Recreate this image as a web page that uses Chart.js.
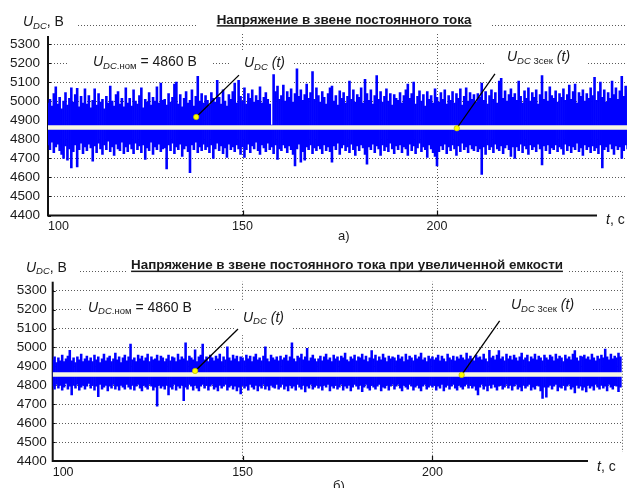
<!DOCTYPE html>
<html><head><meta charset="utf-8">
<script src="https://cdn.jsdelivr.net/npm/chart.js@4"></script>
<style>
html,body{margin:0;padding:0;background:#fff;}
body{width:627px;height:488px;position:relative;overflow:hidden;}
#wa{position:absolute;left:0;top:0;width:627px;height:244px;overflow:hidden;}
#wb{position:absolute;left:0;top:244px;width:627px;height:244px;overflow:hidden;}
canvas{display:block;}
</style></head>
<body>
<div id="wa"><canvas id="ca" width="640" height="244"></canvas></div>
<div id="wb"><canvas id="cb" width="627" height="244"></canvas></div>
<script>
// ---- sampling of the envelopes (seconds) ----
const T_START = 100, T_STEP = 0.5;
const xTicks = [100, 150, 200];
const yTicks = [4400, 4500, 4600, 4700, 4800, 4900, 5000, 5100, 5200, 5300];

// Panel a) – upper / lower envelope of U_DC(t), В
const hiA = [
4990,5010,4975,5040,5075,4985,5020,4960,5000,5045,4980,5015,5070,4995,5035,5068,4970,5025,4990,5065,
4985,5030,4965,5005,5065,4980,5040,4995,5010,4960,5025,4990,5080,5000,4975,5035,5050,4985,5015,4970,
5070,4990,5015,4975,5060,5000,4985,5030,5070,4965,5010,4995,5045,4980,5020,5000,5075,4990,5095,5005,
5010,4980,5040,4995,5020,5090,5100,4985,5035,4970,5015,5050,4990,5005,5060,4975,5025,5130,5000,5040,
4990,5030,5005,4980,5045,5015,4995,5110,5020,4985,5060,5000,4975,5035,5010,5050,5095,4990,5110,5025,
5000,5070,4985,5040,5015,5060,4995,5030,5005,5075,4990,5020,5045,5010,4985,4875,5140,5050,5080,5010,
5030,5085,5000,5050,5020,5065,4995,5040,5170,5025,5060,5005,5035,5090,5015,5045,5155,5010,5070,5030,
4995,5050,5020,4985,5040,5070,5080,5000,5030,4980,5055,5015,5045,4990,5025,5105,5010,5060,4995,5035,
5020,5070,4990,5115,5040,5005,5060,4985,5030,5135,5010,5050,4995,5025,5065,5000,5040,4980,5035,5015,
5005,5045,4990,5030,5060,5090,5015,5040,5100,4985,5025,5055,5000,5035,4975,5050,5010,5030,4990,5065,
5020,4995,5045,5010,5060,4985,5030,5005,5050,4990,5040,5015,5065,4980,5025,5070,5000,5045,5010,5035,
4995,5040,5020,5095,5005,5050,4985,5030,5060,5010,5045,4990,5105,5120,5015,5055,5000,5035,5065,5020,
5040,5005,5105,5025,4990,5055,5015,5070,5000,5045,5020,5060,4985,5035,5135,5010,5050,5000,5075,5030,
5015,5055,4995,5040,5020,5065,5005,5035,5085,5010,5050,5090,4990,5045,5025,5060,5000,5040,5015,5070,
5030,5125,5005,5050,5100,5020,5060,4995,5045,5015,5105,5035,5070,5010,5055,5130,5025,5080,5040,5065
];
const loA = [
4770,4745,4785,4730,4760,4775,4740,4720,4700,4765,4690,4750,4650,4735,4770,4655,4745,4780,4725,4760,
4740,4775,4755,4685,4765,4730,4780,4750,4720,4770,4745,4790,4735,4760,4715,4775,4750,4740,4785,4725,
4760,4735,4775,4750,4725,4780,4745,4765,4730,4770,4695,4755,4740,4785,4720,4760,4745,4775,4735,4750,
4755,4645,4770,4740,4780,4725,4760,4745,4775,4710,4750,4765,4735,4625,4770,4745,4785,4730,4760,4740,
4775,4745,4760,4730,4770,4700,4750,4780,4740,4765,4725,4755,4705,4775,4745,4760,4735,4770,4750,4720,
4760,4705,4745,4775,4730,4765,4750,4785,4740,4720,4770,4755,4735,4780,4745,4760,4725,4770,4695,4750,
4740,4770,4755,4730,4765,4745,4720,4660,4750,4775,4680,4735,4690,4760,4745,4770,4725,4755,4740,4765,
4750,4725,4770,4740,4760,4735,4680,4765,4745,4780,4720,4755,4770,4740,4760,4730,4775,4745,4715,4765,
4740,4770,4755,4720,4670,4760,4745,4775,4730,4765,4750,4715,4770,4740,4760,4735,4780,4750,4725,4765,
4745,4770,4730,4760,4750,4715,4775,4740,4765,4725,4755,4780,4735,4760,4745,4705,4770,4750,4730,4710,
4660,4735,4765,4745,4775,4725,4760,4740,4770,4750,4715,4765,4735,4780,4745,4760,4730,4770,4750,4740,
4765,4735,4750,4615,4760,4720,4770,4745,4760,4730,4775,4750,4740,4765,4725,4755,4770,4745,4710,4760,
4700,4760,4740,4775,4730,4765,4750,4720,4770,4745,4760,4735,4775,4750,4665,4765,4740,4770,4725,4755,
4745,4770,4735,4760,4750,4720,4775,4740,4765,4730,4760,4745,4780,4735,4755,4715,4770,4745,4760,4730,
4765,4740,4755,4725,4770,4650,4745,4760,4735,4775,4750,4720,4765,4745,4760,4700,4740,4770,4750,4735
];
// Panel б) – increased capacitance
const hiB = [
4935,4950,4920,4945,4930,4960,4925,4940,4955,4985,4930,4945,4920,4950,4935,4965,4925,4940,4955,4930,
4945,4925,4960,4935,4950,4920,4940,4965,4930,4945,4955,4925,4940,4970,4935,4950,4920,4945,4960,4930,
4950,5018,4935,4945,4925,4960,4940,4955,4930,4945,4965,4925,4950,4935,4940,4960,4930,4955,4945,4925,
4940,4960,4930,4950,4945,4925,4965,4935,4950,4940,5025,4930,4955,4945,4935,4987,4925,4950,4960,5018,
4935,4950,4925,4960,4945,4930,4955,4940,4965,4925,4950,4935,5004,4945,4930,4960,4940,4955,4925,4950,
4945,4930,4960,4940,4955,4925,4950,4965,4935,4945,4930,4955,5004,4940,4925,4960,4945,4935,4950,4930,
4955,4935,4945,4960,4930,4950,5025,4940,4925,4955,4945,4965,4935,4950,4995,4930,4945,4960,4940,4925,
4940,4955,4930,4950,4965,4935,4945,4925,4960,4940,4950,4930,4955,4945,4970,4935,4925,4950,4940,4960,
4930,4950,4945,4965,4935,4955,4925,4945,4983,4940,4960,4930,4950,4935,4965,4945,4925,4955,4940,4950,
4945,4930,4960,4940,4950,4925,4965,4935,4955,4945,4930,4960,4940,4950,4970,4935,4945,4925,4955,4940,
4950,4935,4945,4960,4930,4955,4940,4925,4965,4945,4935,4955,4930,4950,4940,4960,4945,4935,4970,4940,
4955,4940,4930,4960,4945,4950,4935,4965,4940,4925,4985,4945,4955,4935,4960,4983,4940,4950,4930,4965,
4940,4955,4935,4960,4945,4930,4950,4970,4935,4945,4960,4925,4950,4940,4965,4935,4955,4945,4930,4960,
4945,4935,4960,4950,4930,4965,4940,4955,4945,4925,4960,4940,4950,4935,4965,4983,4945,4930,4955,4950,
4960,4940,4950,4935,4965,4945,4930,4955,4940,4960,4945,4992,4950,4935,4965,4940,4955,4945,4970,4950
];
const loB = [
4795,4780,4805,4785,4800,4775,4790,4810,4780,4795,4749,4800,4785,4805,4775,4790,4800,4780,4795,4810,
4785,4800,4775,4795,4740,4805,4780,4790,4800,4770,4795,4785,4805,4780,4795,4775,4800,4790,4780,4805,
4790,4780,4800,4775,4795,4805,4785,4770,4800,4790,4780,4805,4795,4775,4790,4690,4800,4785,4795,4780,
4800,4749,4790,4780,4805,4775,4795,4785,4800,4719,4790,4780,4805,4795,4775,4800,4785,4770,4795,4805,
4785,4800,4775,4795,4805,4780,4790,4770,4800,4785,4795,4805,4775,4790,4800,4780,4795,4770,4790,4755,
4800,4785,4795,4775,4805,4790,4780,4800,4770,4795,4785,4805,4780,4795,4775,4800,4790,4785,4805,4780,
4790,4805,4780,4795,4770,4800,4785,4795,4775,4805,4790,4780,4800,4765,4795,4785,4805,4780,4790,4800,
4785,4795,4775,4800,4790,4805,4770,4795,4785,4800,4780,4790,4805,4775,4795,4785,4800,4770,4790,4805,
4795,4780,4800,4766,4790,4805,4785,4775,4800,4790,4780,4795,4805,4770,4790,4785,4800,4775,4795,4805,
4780,4795,4805,4785,4770,4800,4790,4780,4805,4795,4775,4790,4800,4785,4770,4795,4805,4780,4790,4800,
4790,4800,4775,4795,4785,4805,4770,4790,4800,4780,4795,4805,4785,4775,4800,4790,4780,4795,4805,4785,
4800,4785,4795,4775,4749,4790,4805,4780,4795,4770,4800,4785,4805,4790,4775,4795,4800,4780,4790,4805,
4785,4800,4775,4795,4805,4780,4790,4770,4800,4785,4795,4805,4775,4790,4780,4800,4795,4770,4731,4790,
4738,4790,4800,4780,4795,4805,4770,4790,4785,4800,4775,4795,4805,4780,4790,4760,4800,4785,4795,4775,
4790,4765,4800,4785,4795,4775,4805,4790,4780,4800,4785,4795,4770,4805,4790,4780,4800,4795,4766,4790
];
// 3-second average U_DC 3сек(t)
const avgT = [100, 250];
const avgA = [4862, 4862];
const avgB = [4857, 4857];
// marked points (t, value) and leader end points
const dotsA = [[138.1, 4917], [205.1, 4858]];
const dotsB = [[137.5, 4876], [207.7, 4855]];
const leadEndA = [[149.1, 5137], [214.9, 5143]];
const leadEndB = [[148.8, 5098], [217.7, 5140]];

const FONT = '"Liberation Sans", Arial, Helvetica, sans-serif';
const TXT = '#1a1a1a';

function rich(ctx, x, y, parts){
  let cx = x;
  for (const p of parts){
    ctx.font = p.f;
    ctx.fillText(p.t, cx, y + (p.dy || 0));
    cx += ctx.measureText(p.t).width;
  }
}
const F = (s, st) => (st ? st + ' ' : '') + s + 'px ' + FONT;

function decoPlugin(cfg){
  return {
    id: 'deco',
    beforeDatasetsDraw(chart){
      const {ctx, chartArea: a, scales: {x, y}} = chart;
      ctx.save();
      ctx.strokeStyle = '#111'; ctx.lineWidth = 2; ctx.lineJoin = 'miter';
      ctx.beginPath();
      ctx.moveTo(a.left, a.top); ctx.lineTo(a.left, a.bottom); ctx.lineTo(a.right, a.bottom);
      ctx.stroke();
      ctx.lineWidth = 1.2;
      ctx.beginPath();
      for (const v of [150, 200, 250]){ const px = Math.round(x.getPixelForValue(v)) + 0.5; ctx.moveTo(px, a.bottom); ctx.lineTo(px, a.bottom - 5); }
      for (const v of yTicks.concat([5400])){ const py = Math.round(y.getPixelForValue(v)) + 0.5; ctx.moveTo(a.left, py); ctx.lineTo(a.left + 3, py); }
      ctx.stroke();
      ctx.fillStyle = '#fff';
      for (const b of cfg.boxes) ctx.fillRect(b[0], b[1], b[2] - b[0], b[3] - b[1]);
      ctx.restore();
    },
    afterDatasetsDraw(chart){
      const ctx = chart.ctx;
      ctx.save();
      ctx.fillStyle = TXT; ctx.textBaseline = 'alphabetic'; ctx.textAlign = 'left';
      const L = cfg.lab;
      rich(ctx, L.yT[0], L.yT[1], [{t:'U', f:F(14,'italic')}, {t:'DC', f:F(9.5,'italic'), dy:2.5}, {t:', В', f:F(14)}]);
      rich(ctx, L.tT[0], L.tT[1], [{t:'t', f:F(14,'italic')}, {t:', с', f:F(14)}]);
      ctx.font = F(13.4, 'bold');
      const w = ctx.measureText(cfg.title).width;
      const x0 = L.title[0] - w / 2;
      ctx.fillText(cfg.title, x0, L.title[1]);
      ctx.fillRect(x0, L.title[1] + 1.6, w, 1.5);
      rich(ctx, L.nom[0], L.nom[1], [{t:'U', f:F(14,'italic')}, {t:'DC', f:F(9.5,'italic'), dy:2.5}, {t:'.ном', f:F(9.5), dy:2.5}, {t:' = 4860 В', f:F(14)}]);
      rich(ctx, L.udc[0], L.udc[1], [{t:'U', f:F(14,'italic')}, {t:'DC', f:F(9.5,'italic'), dy:2.5}, {t:' (t)', f:F(14,'italic')}]);
      rich(ctx, L.u3[0], L.u3[1], [{t:'U', f:F(14,'italic')}, {t:'DC', f:F(9.5,'italic'), dy:2.5}, {t:' 3сек', f:F(9.5), dy:2.5}, {t:' (t)', f:F(14,'italic')}]);
      ctx.font = F(13);
      ctx.fillText(cfg.panel, L.panel[0], L.panel[1]);
      ctx.restore();
    }
  };
}

function makePanel(id, cfg){
  const bars = cfg.hi.map((h, i) => ({x: T_START + i * T_STEP, y: [cfg.lo[i], h]}));
  const gridOpt = {color: '#5a5a5a', lineWidth: 1, drawTicks: false, offset: false};
  const datasets = [
    {type: 'scatter', data: cfg.dots.map(d => ({x: d[0], y: d[1]})), pointRadius: 2.7,
     pointBackgroundColor: '#ffff00', pointBorderColor: '#b8b800', pointBorderWidth: 0.7, order: 1},
    ...cfg.dots.map((d, k) => ({type: 'line', data: [{x: d[0], y: d[1]}, {x: cfg.lead[k][0], y: cfg.lead[k][1]}],
      borderColor: '#000', borderWidth: 1.3, pointRadius: 0, order: 2})),
    {type: 'line', data: avgT.map((t, i) => ({x: t, y: cfg.avg[i]})), borderColor: '#f6f6e2',
     borderWidth: 4.4, pointRadius: 0, order: 3},
    {type: 'bar', data: bars, backgroundColor: '#0000ff', borderWidth: 0, barPercentage: 1,
     categoryPercentage: 1, grouped: false, order: 4}
  ];
  new Chart(document.getElementById(id), {
    type: 'bar',
    data: {datasets},
    options: {
      responsive: false, animation: false, events: [],
      layout: {padding: {top: cfg.top, right: cfg.rightPad, left: 0, bottom: 0}},
      plugins: {legend: {display: false}, tooltip: {enabled: false}},
      scales: {
        x: {type: 'linear', min: 100, max: 250, offset: false,
            afterFit: s => { s.height = cfg.xH; },
            grid: gridOpt, border: {display: false, dash: [1, 2]},
            afterBuildTicks: s => { s.ticks = xTicks.concat([250]).map(v => ({value: v})); },
            ticks: {align: 'inner', padding: cfg.xPad, color: TXT, font: {family: FONT, size: 12.5},
                    maxRotation: 0, autoSkip: false, callback: v => (xTicks.includes(v) ? String(v) : '')}},
        y: {min: 4400, max: 5400,
            afterFit: s => { s.width = cfg.left; },
            grid: gridOpt, border: {display: false, dash: [1, 2]},
            afterBuildTicks: s => { s.ticks = yTicks.concat([5400]).map(v => ({value: v})); },
            ticks: {padding: cfg.yPad, color: TXT, font: {family: FONT, size: 13.5}, autoSkip: false,
                    callback: v => (yTicks.includes(v) ? String(v) : '')}}
      }
    },
    plugins: [decoPlugin(cfg)]
  });
}

makePanel('ca', {
  hi: hiA, lo: loA, avg: avgA, dots: dotsA, lead: leadEndA,
  top: 25, rightPad: 8.5, left: 48, xH: 28.5, xPad: 4, yPad: 8,
  title: 'Напряжение в звене постоянного тока', panel: 'а)',
  boxes: [[0,0,78,36],[197,0,492,33],[68,50,213,72],[230,52,293,86],[485,46,588,72],[597,205,640,233]],
  lab: {yT:[23,26], tT:[606,223.5], title:[344,23.5], nom:[93,66], udc:[244,67], u3:[507,61], panel:[338,240]}
});
makePanel('cb', {
  hi: hiB, lo: loB, avg: avgB, dots: dotsB, lead: leadEndB,
  top: 27.8, rightPad: 4.3, left: 52.7, xH: 27, xPad: 4, yPad: 6,
  title: 'Напряжение в звене постоянного тока при увеличенной емкости', panel: 'б)',
  boxes: [[0,0,78,37.7],[128,0,568,37.7],[82,50,213,74],[236,56,293,91],[488,50,591,74],[588,208,627,236]],
  lab: {yT:[26,27.5], tT:[597,227], title:[347,25], nom:[88,67.5], udc:[243,77.5], u3:[511,65], panel:[333,245.5]}
});
</script>
</body></html>
